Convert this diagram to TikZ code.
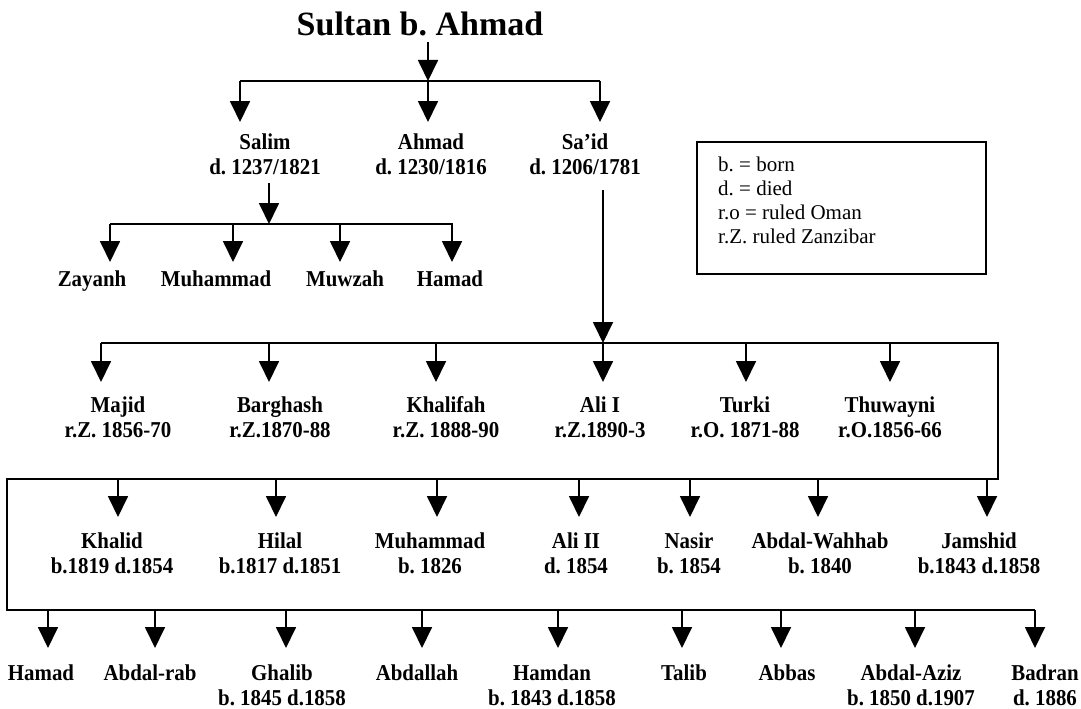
\documentclass[tikz,border=0pt]{standalone}
\usepackage{fontspec}
\setmainfont{Liberation Serif}
\newfontfamily\condfont[FakeStretch=0.92]{Liberation Serif}
\usetikzlibrary{arrows.meta}
\newcommand\kidarrow[3]{\draw[arr] (#1,#2) -- (#1,#3);}
\frenchspacing
\begin{document}
\begin{tikzpicture}[x=1pt,y=-1pt,
  bar/.style={line width=1.8pt, line join=miter},
  arr/.style={line width=1.8pt,-{Triangle[width=20pt,length=21pt]}},
  person/.style={anchor=north, inner sep=0pt, align=center, font=\condfont\fontsize{22.7}{25}\selectfont\bfseries,
    execute at begin node={\rule{0pt}{16pt}}},
  legend/.style={anchor=north west, inner sep=0pt, align=left, font=\fontsize{21}{24}\selectfont},
  titlestyle/.style={anchor=north, inner sep=0pt, font=\fontsize{34}{40}\selectfont\bfseries}]
\useasboundingbox (0,0) rectangle (1081,709);
% title
\node[titlestyle] (title) at (420,12) {Sultan b. Ahmad};
\coordinate (t0) at (428,42);
\coordinate (b1) at (428,81);
\draw[arr] (t0) -- (b1);
\draw[bar] (240,81) -- (600,81);
\kidarrow{240}{81}{122}
\kidarrow{428}{81}{122}
\kidarrow{600}{81}{122}
% generation 1
\node[person] (salim) at (265,133.5) {Salim\\d. 1237/1821};
\node[person] (ahmad) at (431,133.5) {Ahmad\\d. 1230/1816};
\node[person] (said) at (585,133.5) {Sa’id\\d. 1206/1781};
% legend
\draw[line width=1.8pt] (697,142) rectangle (986,274);
\node[legend] (key) at (718,156.5) {b. = born\\d. = died\\r.o = ruled Oman\\r.Z. ruled Zanzibar};
% Salim's children
\kidarrow{269}{183}{224}
\draw[bar] (110,224) -- (453,224);
\kidarrow{110}{224}{262}
\kidarrow{233}{224}{262}
\kidarrow{340}{224}{262}
\kidarrow{452}{224}{262}
\node[person] (zayanh) at (92,270.5) {Zayanh};
\node[person] (muhammadA) at (216,270.5) {Muhammad};
\node[person] (muwzah) at (345,270.5) {Muwzah};
\node[person] (hamadA) at (450,270.5) {Hamad};
% Sa'id's line
\coordinate (s0) at (603,190);
\coordinate (s1) at (603,343);
\draw[arr] (s0) -- (s1);
\draw[bar] (101,343) -- (998,343) -- (998,479) -- (7,479) -- (7,610) -- (1035,610);
% row 2
\kidarrow{101}{343}{382}
\kidarrow{269}{343}{382}
\kidarrow{436}{343}{382}
\kidarrow{603}{343}{382}
\kidarrow{746}{343}{382}
\kidarrow{890}{343}{382}
\node[person] (majid) at (118,396.5) {Majid\\r.Z. 1856-70};
\node[person] (barghash) at (280,396.5) {Barghash\\r.Z.1870-88};
\node[person] (khalifah) at (446,396.5) {Khalifah\\r.Z. 1888-90};
\node[person] (aliI) at (600,396.5) {Ali I\\r.Z.1890-3};
\node[person] (turki) at (745,396.5) {Turki\\r.O. 1871-88};
\node[person] (thuwayni) at (890,396.5) {Thuwayni\\r.O.1856-66};
% row 3
\kidarrow{118}{479}{517}
\kidarrow{276}{479}{517}
\kidarrow{437}{479}{517}
\kidarrow{579}{479}{517}
\kidarrow{690}{479}{517}
\kidarrow{818}{479}{517}
\kidarrow{987}{479}{517}
\node[person] (khalid) at (112,533) {Khalid\\b.1819 d.1854};
\node[person] (hilal) at (280,533) {Hilal\\b.1817 d.1851};
\node[person] (muhammadB) at (430,533) {Muhammad\\b. 1826};
\node[person] (aliII) at (576,533) {Ali II\\d. 1854};
\node[person] (nasir) at (689,533) {Nasir\\b. 1854};
\node[person] (wahhab) at (820,533) {Abdal-Wahhab\\b. 1840};
\node[person] (jamshid) at (979,533) {Jamshid\\b.1843 d.1858};
% row 4
\kidarrow{48}{610}{648}
\kidarrow{155}{610}{648}
\kidarrow{286}{610}{648}
\kidarrow{422}{610}{648}
\kidarrow{558}{610}{648}
\kidarrow{682}{610}{648}
\kidarrow{781}{610}{648}
\kidarrow{915}{610}{648}
\kidarrow{1035}{610}{648}
\node[person] (hamadB) at (41,664.5) {Hamad};
\node[person] (abdalrab) at (150,664.5) {Abdal-rab};
\node[person] (ghalib) at (282,664.5) {Ghalib\\b. 1845 d.1858};
\node[person] (abdallah) at (417,664.5) {Abdallah};
\node[person] (hamdan) at (552,664.5) {Hamdan\\b. 1843 d.1858};
\node[person] (talib) at (684,664.5) {Talib};
\node[person] (abbas) at (787,664.5) {Abbas};
\node[person] (aziz) at (911,664.5) {Abdal-Aziz\\b. 1850 d.1907};
\node[person] (badran) at (1045,664.5) {Badran\\d. 1886};
\end{tikzpicture}
\end{document}
